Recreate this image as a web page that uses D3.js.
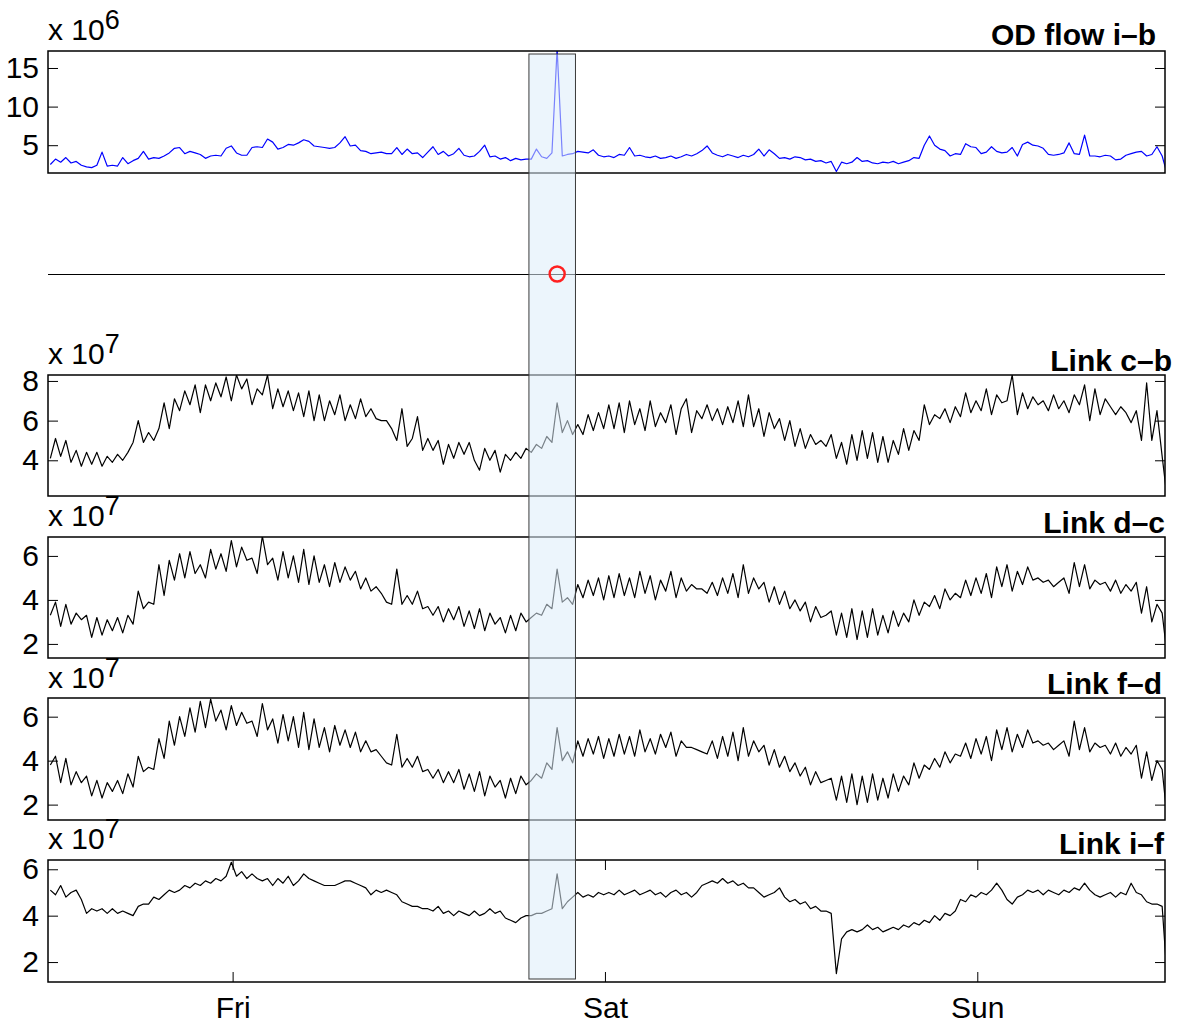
<!DOCTYPE html>
<html>
<head>
<meta charset="utf-8">
<script src="https://cdn.jsdelivr.net/npm/d3@7"></script>
<style>
  body { margin: 0; background: #fff; }
  text { font-family: "Liberation Sans", Arial, Helvetica, sans-serif; }
</style>
</head>
<body>
<div id="chart"></div>
<script>
// Time axis: samples every 20 min, hours relative to Friday 00:00
const startHour = -11.75;
const stepHours = 1 / 3;
const dayLabels = ["Fri", "Sat", "Sun"];
const dayHours = [0, 24, 48];
const anomalyWindow = [19.1, 22.1];   // highlighted interval (hours)
const anomalyHour = 20.92;            // red marker

// OD flow i-b (x 10^6)
const odFlow = [
  2.5, 3.2, 2.8, 3.4, 2.7, 2.9, 2.4, 2.2, 2.1, 2.4,
  4.1, 2.3, 2.4, 2.3, 3.4, 2.6, 3.0, 3.3, 4.2, 3.2,
  3.4, 3.3, 3.6, 4.0, 4.6, 4.7, 3.9, 4.2, 4.0, 3.8,
  3.3, 3.6, 3.7, 3.6, 4.6, 4.9, 4.0, 3.7, 3.7, 4.7,
  4.8, 4.7, 5.8, 5.4, 4.5, 4.7, 5.1, 5.0, 5.3, 5.7,
  5.5, 4.9, 4.8, 4.7, 4.6, 4.7, 5.3, 6.1, 4.9, 5.0,
  4.3, 4.2, 3.9, 4.0, 4.1, 3.9, 3.9, 4.7, 3.8, 4.5,
  3.9, 4.0, 3.4, 4.1, 4.8, 3.8, 4.2, 3.6, 3.9, 4.6,
  3.7, 3.5, 3.6, 4.2, 5.0, 3.5, 3.6, 3.2, 3.4, 3.0,
  3.3, 3.1, 3.2, 3.2, 4.5, 3.5, 3.3, 4.0, 17.5, 3.6,
  3.8, 3.9, 4.2, 4.1, 4.0, 4.4, 3.7, 3.5, 3.6, 3.4,
  3.8, 3.7, 4.7, 3.6, 3.7, 3.5, 3.4, 3.6, 3.3, 3.4,
  3.6, 3.3, 3.5, 3.8, 3.6, 3.9, 4.3, 4.9, 4.0, 3.7,
  3.5, 3.8, 3.6, 3.4, 3.7, 3.5, 3.8, 4.5, 3.6, 4.4,
  3.9, 3.3, 3.4, 3.2, 3.5, 3.4, 3.1, 3.2, 2.9, 3.0,
  2.7, 2.9, 1.6, 2.8, 2.6, 2.8, 3.4, 2.9, 3.0, 2.7,
  2.6, 2.8, 2.7, 2.9, 2.6, 2.8, 3.0, 3.4, 3.3, 5.0,
  6.2, 5.0, 4.5, 4.3, 3.6, 3.9, 3.8, 5.2, 4.8, 4.7,
  3.9, 4.1, 4.8, 4.2, 4.0, 4.1, 4.7, 3.6, 5.1, 5.4,
  5.0, 4.9, 4.6, 3.8, 3.7, 3.8, 4.0, 5.3, 3.9, 3.8,
  6.3, 3.6, 3.6, 3.5, 3.7, 3.6, 3.1, 3.2, 3.7, 3.9,
  4.1, 4.2, 3.6, 3.8, 4.8, 3.6, 1.2
];

// Link c-b (x 10^7)
const linkCB = [
  4.1, 5.1, 4.2, 5.0, 3.9, 4.5, 3.7, 4.4, 3.8, 4.4,
  3.7, 4.2, 3.9, 4.3, 4.0, 4.4, 4.9, 6.0, 4.9, 5.4,
  5.0, 5.6, 6.9, 5.6, 7.1, 6.5, 7.5, 6.8, 7.8, 6.4,
  7.8, 7.0, 7.9, 7.2, 8.2, 7.0, 8.3, 7.6, 8.1, 6.8,
  7.6, 7.3, 8.3, 6.6, 7.6, 6.7, 7.5, 6.5, 7.4, 6.2,
  7.5, 6.0, 7.3, 6.0, 7.0, 6.3, 7.3, 6.0, 6.8, 6.1,
  7.1, 6.2, 6.6, 6.1, 6.0, 6.0, 5.6, 5.0, 6.6, 4.7,
  5.1, 6.2, 4.5, 5.1, 4.5, 5.0, 3.8, 4.8, 4.1, 4.9,
  4.3, 4.9, 4.0, 3.5, 4.6, 4.0, 4.5, 3.4, 4.3, 4.0,
  4.4, 4.1, 4.6, 4.4, 4.8, 4.6, 5.2, 4.9, 6.9, 5.4,
  6.0, 5.3, 5.8, 5.3, 6.3, 5.5, 6.4, 5.6, 6.8, 5.6,
  6.9, 5.4, 7.0, 5.8, 6.6, 5.5, 7.0, 5.7, 6.4, 5.9,
  6.8, 5.3, 6.6, 7.1, 5.4, 6.5, 6.1, 6.8, 6.0, 6.6,
  5.8, 6.7, 5.9, 7.0, 5.7, 7.3, 5.7, 6.6, 5.2, 6.4,
  5.6, 6.1, 5.0, 6.0, 4.7, 5.6, 4.6, 5.3, 4.8, 5.0,
  4.7, 5.3, 4.1, 4.9, 3.8, 5.3, 4.0, 5.5, 4.1, 5.4,
  3.9, 5.2, 3.9, 5.0, 4.3, 5.6, 4.5, 5.5, 5.0, 6.8,
  5.8, 6.3, 6.1, 6.6, 5.9, 6.7, 6.2, 7.4, 6.4, 7.0,
  6.5, 7.6, 6.3, 7.3, 6.9, 7.0, 8.3, 6.3, 7.4, 6.6,
  7.2, 6.8, 7.0, 6.5, 7.3, 6.6, 7.0, 6.4, 7.3, 6.8,
  7.8, 6.0, 7.6, 6.3, 7.1, 6.7, 6.3, 6.7, 6.4, 5.9,
  6.5, 5.0, 7.9, 5.0, 6.5, 4.2, 2.0
];

// Link d-c (x 10^7)
const linkDC = [
  3.3, 3.9, 2.8, 3.8, 2.9, 3.4, 3.1, 3.3, 2.3, 3.2,
  2.4, 3.1, 2.6, 3.2, 2.5, 3.3, 2.9, 4.4, 3.6, 3.9,
  3.8, 5.6, 4.2, 5.8, 4.9, 6.1, 5.0, 6.2, 5.2, 5.6,
  5.0, 6.3, 5.4, 6.1, 5.3, 6.7, 5.5, 6.4, 5.8, 5.9,
  5.2, 6.9, 5.6, 5.9, 4.9, 6.2, 5.0, 6.0, 4.8, 6.3,
  4.7, 6.0, 4.8, 5.6, 4.6, 5.7, 4.8, 5.5, 4.9, 5.3,
  4.5, 5.0, 4.4, 4.6, 4.3, 3.9, 3.8, 5.4, 3.8, 4.2,
  3.8, 4.4, 3.6, 3.7, 3.3, 3.7, 3.0, 3.6, 3.1, 3.7,
  2.8, 3.5, 2.7, 3.6, 2.6, 3.4, 2.9, 3.2, 2.5, 3.3,
  2.6, 3.4, 3.0, 3.2, 3.4, 3.3, 3.8, 3.6, 5.4, 3.9,
  4.1, 3.8, 4.7, 4.1, 4.9, 4.2, 5.0, 4.0, 5.1, 4.1,
  5.2, 4.2, 5.0, 4.1, 5.3, 4.3, 5.1, 4.0, 4.9, 4.4,
  5.3, 4.1, 5.0, 4.4, 4.7, 4.5, 4.5, 4.3, 4.8, 4.2,
  5.0, 4.3, 5.2, 4.1, 5.6, 4.3, 5.0, 4.5, 4.8, 3.9,
  4.6, 3.8, 4.4, 3.6, 4.0, 3.5, 3.9, 3.0, 3.7, 3.2,
  3.3, 3.5, 2.4, 3.4, 2.3, 3.6, 2.2, 3.5, 2.3, 3.6,
  2.4, 3.3, 2.5, 3.5, 2.8, 3.4, 3.0, 4.0, 3.3, 3.9,
  3.7, 4.2, 3.6, 4.5, 4.0, 4.3, 4.1, 4.9, 4.2, 5.0,
  4.3, 5.2, 4.1, 5.5, 4.6, 5.6, 4.4, 5.3, 4.7, 5.5,
  4.9, 5.0, 4.8, 4.9, 4.6, 4.8, 5.0, 4.3, 5.7, 4.6,
  5.6, 4.5, 4.9, 4.7, 4.8, 4.4, 4.9, 4.3, 4.7, 4.4,
  4.8, 3.4, 4.6, 3.0, 3.8, 3.4, 1.4
];

// Link f-d (x 10^7)
const linkFD = [
  3.8, 4.2, 3.0, 4.1, 2.9, 3.5, 3.0, 3.3, 2.4, 3.1,
  2.3, 3.0, 2.6, 3.1, 2.5, 3.4, 2.8, 4.2, 3.5, 3.7,
  3.6, 5.0, 4.1, 5.8, 4.7, 6.0, 5.1, 6.4, 5.3, 6.7,
  5.5, 6.8, 5.8, 6.3, 5.4, 6.5, 5.6, 6.2, 5.7, 5.8,
  5.1, 6.6, 5.4, 5.9, 4.8, 6.1, 4.9, 6.0, 4.6, 6.2,
  4.5, 5.9, 4.6, 5.5, 4.4, 5.6, 4.7, 5.4, 4.6, 5.3,
  4.4, 4.9, 4.4, 4.5, 4.2, 3.9, 3.8, 5.2, 3.7, 4.1,
  3.7, 4.2, 3.5, 3.6, 3.2, 3.6, 3.0, 3.5, 3.0, 3.6,
  2.7, 3.4, 2.6, 3.5, 2.4, 3.3, 2.8, 3.1, 2.3, 3.2,
  2.5, 3.3, 2.9, 3.1, 3.4, 3.2, 3.9, 3.6, 5.5, 4.0,
  4.4, 3.9, 4.9, 4.2, 5.0, 4.3, 5.1, 4.1, 5.0, 4.2,
  5.2, 4.3, 5.1, 4.2, 5.4, 4.4, 5.0, 4.3, 5.2, 4.6,
  5.3, 4.2, 4.9, 4.6, 4.6, 4.5, 4.4, 4.3, 4.9, 4.1,
  5.1, 4.2, 5.3, 4.0, 5.5, 4.2, 4.9, 4.4, 4.7, 3.8,
  4.5, 3.7, 4.2, 3.5, 3.9, 3.3, 3.7, 2.9, 3.5, 3.0,
  3.1, 3.2, 2.2, 3.3, 2.1, 3.4, 2.0, 3.3, 2.1, 3.4,
  2.2, 3.2, 2.3, 3.4, 2.6, 3.3, 2.9, 3.9, 3.2, 3.8,
  3.6, 4.1, 3.7, 4.4, 3.9, 4.3, 4.2, 4.8, 4.1, 5.0,
  4.3, 5.1, 4.0, 5.4, 4.5, 5.5, 4.4, 5.2, 4.6, 5.4,
  4.8, 4.9, 4.7, 4.8, 4.5, 4.7, 4.9, 4.2, 5.8, 4.5,
  5.5, 4.4, 4.8, 4.6, 4.7, 4.3, 4.8, 4.2, 4.6, 4.3,
  4.7, 3.2, 4.4, 3.1, 4.0, 3.6, 1.3
];

// Link i-f (x 10^7)
const linkIF = [
  5.1, 4.9, 5.3, 4.8, 5.0, 5.1, 4.7, 4.1, 4.3, 4.2,
  4.3, 4.1, 4.3, 4.1, 4.2, 4.1, 4.0, 4.4, 4.5, 4.5,
  4.8, 4.7, 4.9, 5.1, 5.0, 5.1, 5.3, 5.2, 5.4, 5.3,
  5.5, 5.4, 5.6, 5.5, 5.7, 6.3, 5.7, 5.9, 5.6, 5.8,
  5.6, 5.5, 5.6, 5.3, 5.6, 5.4, 5.7, 5.3, 5.5, 5.8,
  5.6, 5.5, 5.4, 5.3, 5.3, 5.3, 5.4, 5.5, 5.5, 5.4,
  5.3, 5.2, 4.9, 5.1, 5.0, 5.1, 5.0, 4.9, 4.6, 4.5,
  4.4, 4.4, 4.3, 4.3, 4.2, 4.4, 4.1, 4.2, 4.0, 4.2,
  4.1, 4.0, 4.2, 4.0, 4.1, 4.3, 4.1, 4.2, 3.9, 3.8,
  3.7, 3.9, 4.0, 4.0, 4.1, 4.1, 4.2, 4.3, 5.8, 4.3,
  4.6, 4.8, 5.0, 4.8, 4.9, 4.8, 5.0, 4.9, 5.0, 4.9,
  5.1, 4.9, 5.0, 5.1, 4.9, 5.0, 5.1, 4.9, 5.0, 4.8,
  5.0, 5.1, 4.9, 5.0, 4.8, 5.0, 5.3, 5.4, 5.5, 5.4,
  5.6, 5.4, 5.5, 5.3, 5.4, 5.2, 5.2, 5.0, 4.8, 4.9,
  5.0, 5.2, 4.8, 4.6, 4.7, 4.5, 4.6, 4.3, 4.4, 4.2,
  4.2, 4.1, 1.5, 3.0, 3.3, 3.4, 3.3, 3.4, 3.6, 3.4,
  3.5, 3.3, 3.4, 3.5, 3.4, 3.6, 3.5, 3.7, 3.6, 3.8,
  3.7, 4.0, 3.8, 4.1, 4.0, 4.2, 4.7, 4.6, 4.9, 4.8,
  5.0, 4.9, 5.1, 5.4, 5.1, 4.7, 4.5, 4.8, 4.9, 5.1,
  5.0, 5.1, 4.9, 5.1, 5.0, 4.9, 5.1, 5.0, 5.2, 5.1,
  5.4, 5.1, 4.9, 4.8, 4.9, 5.0, 4.8, 5.0, 4.9, 5.4,
  5.0, 4.9, 4.6, 4.5, 4.5, 4.4, 1.2
];

const width = 1184;
const height = 1029;
const left = 48;
const right = 1165;

const panels = [
  { title: "OD flow i\u2013b", values: odFlow, exponent: "6", color: "#0000ff",
    top: 51, bottom: 173, domain: [1.4, 17.2], ticks: [5, 10, 15],
    titleX: 1156, titleY: 45, expY: 40 },
  { title: "Link c\u2013b", values: linkCB, exponent: "7", color: "#000",
    top: 375, bottom: 496, domain: [2.2, 8.3], ticks: [4, 6, 8],
    titleX: 1172, titleY: 371, expY: 364 },
  { title: "Link d\u2013c", values: linkDC, exponent: "7", color: "#000",
    top: 537, bottom: 658, domain: [1.36, 6.86], ticks: [2, 4, 6],
    titleX: 1165, titleY: 533, expY: 526 },
  { title: "Link f\u2013d", values: linkFD, exponent: "7", color: "#000",
    top: 698, bottom: 820, domain: [1.3, 6.85], ticks: [2, 4, 6],
    titleX: 1162, titleY: 694, expY: 688 },
  { title: "Link i\u2013f", values: linkIF, exponent: "7", color: "#000",
    top: 860, bottom: 982, domain: [1.14, 6.4], ticks: [2, 4, 6],
    titleX: 1164, titleY: 854, expY: 849 }
];

const svg = d3.select("#chart")
  .append("svg")
  .attr("width", width)
  .attr("height", height)
  .style("background-color", "#fff");

// shared time scale
const x = d3.scaleLinear()
  .domain([-11.9, 60.1])
  .range([left, right]);

const hourOf = i => startHour + i * stepHours;

panels.forEach((p, k) => {
  const y = d3.scaleLinear().domain(p.domain).range([p.bottom, p.top]);
  const g = svg.append("g");

  // clip so spikes/drops stay inside the box
  svg.append("clipPath")
    .attr("id", "clip" + k)
    .append("rect")
    .attr("x", left).attr("y", p.top)
    .attr("width", right - left).attr("height", p.bottom - p.top);

  const line = d3.line()
    .x((d, i) => x(hourOf(i)))
    .y(d => y(d));

  g.append("path")
    .datum(p.values)
    .attr("clip-path", "url(#clip" + k + ")")
    .attr("d", line)
    .attr("fill", "none")
    .attr("stroke", p.color)
    .attr("stroke-width", 1.2)
    .attr("stroke-linejoin", "round");

  // left axis with inner ticks
  const yAxis = g.append("g")
    .attr("transform", `translate(${left},0)`)
    .call(d3.axisLeft(y).tickValues(p.ticks).tickSize(-10).tickPadding(9)
      .tickFormat(d3.format("d")));
  yAxis.select(".domain").remove();
  yAxis.selectAll("text")
    .style("font-size", "30px")
    .attr("fill", "#000");
  yAxis.selectAll("line").attr("stroke", "#000");

  // right-side ticks, no labels
  const yRight = g.append("g")
    .attr("transform", `translate(${right},0)`)
    .call(d3.axisRight(y).tickValues(p.ticks).tickSize(-10).tickFormat(""));
  yRight.select(".domain").remove();
  yRight.selectAll("line").attr("stroke", "#000");

  // day ticks only on the last panel
  if (k === panels.length - 1) {
    const xAxis = g.append("g")
      .attr("transform", `translate(0,${p.bottom})`)
      .call(d3.axisBottom(x).tickValues(dayHours)
        .tickFormat((d, i) => dayLabels[i]).tickSize(-10).tickPadding(15));
    xAxis.select(".domain").remove();
    xAxis.selectAll("text").style("font-size", "30px").attr("fill", "#000");
    xAxis.selectAll("line").attr("stroke", "#000");

    const xTop = g.append("g")
      .attr("transform", `translate(0,${p.top})`)
      .call(d3.axisTop(x).tickValues(dayHours).tickSize(-10).tickFormat(""));
    xTop.select(".domain").remove();
    xTop.selectAll("line").attr("stroke", "#000");
  }

  // box
  g.append("rect")
    .attr("x", left).attr("y", p.top)
    .attr("width", right - left).attr("height", p.bottom - p.top)
    .attr("fill", "none")
    .attr("stroke", "#000")
    .attr("stroke-width", 1.5);

  // "x 10^n" multiplier
  const ex = g.append("text")
    .attr("x", left)
    .attr("y", p.expY)
    .style("font-size", "30px")
    .text("x 10");
  ex.append("tspan")
    .attr("dy", -11)
    .style("font-size", "27px")
    .text(p.exponent);

  // title
  g.append("text")
    .attr("x", p.titleX)
    .attr("y", p.titleY)
    .attr("text-anchor", "end")
    .style("font-size", "30px")
    .style("font-weight", "bold")
    .text(p.title);
});

// empty middle row: a single line with the detected anomaly
const midY = 274;
svg.append("line")
  .attr("x1", left).attr("x2", right)
  .attr("y1", midY + 0.5).attr("y2", midY + 0.5)
  .attr("stroke", "#000")
  .attr("stroke-width", 1)
  .attr("shape-rendering", "crispEdges");

// highlighted anomaly window across all panels
svg.append("rect")
  .attr("x", x(anomalyWindow[0]))
  .attr("y", 54)
  .attr("width", x(anomalyWindow[1]) - x(anomalyWindow[0]))
  .attr("height", 979 - 54)
  .attr("fill", "#dcedfa")
  .attr("fill-opacity", 0.55)
  .attr("stroke", "#3a3a3a")
  .attr("stroke-width", 1);

svg.append("circle")
  .attr("cx", x(anomalyHour))
  .attr("cy", midY)
  .attr("r", 7.5)
  .attr("fill", "none")
  .attr("stroke", "#ff2020")
  .attr("stroke-width", 2.5);
</script>
</body>
</html>
